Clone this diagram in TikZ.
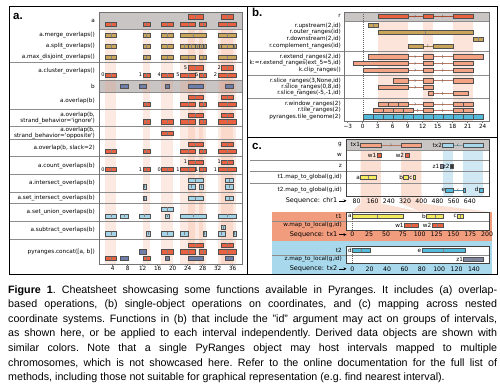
\documentclass[tikz,border=0pt]{standalone}
\usepackage{fontspec}
\setmainfont{Liberation Sans}
\newfontfamily\dvs{DejaVu Sans}
\usetikzlibrary{arrows.meta}
\definecolor{cA}{RGB}{232,98,66}
\definecolor{cTan}{RGB}{200,165,90}
\definecolor{cB}{RGB}{108,126,176}
\definecolor{cLB}{RGB}{163,212,232}
\definecolor{cSal}{RGB}{244,162,132}
\definecolor{cTG}{RGB}{84,186,220}
\definecolor{cLB2}{RGB}{165,215,237}
\definecolor{cY}{RGB}{244,234,96}
\definecolor{cZa}{RGB}{128,134,160}
\definecolor{cZb}{RGB}{55,55,60}
\definecolor{cBand}{RGB}{201,197,197}
\definecolor{cShade}{RGB}{244,150,110}
\definecolor{cBShade}{RGB}{150,205,232}
\definecolor{cSalBg}{RGB}{242,156,126}
\definecolor{cBlueBg}{RGB}{168,216,236}
\definecolor{cEdge}{RGB}{80,80,80}
\newcommand\lfont{\dvs\fontsize{5.7}{5.6}\selectfont}
\newcommand\ivh{2.1}
\newcommand\setX[2]{\def\XO{#1}\def\XS{#2}}
\newcommand\px[1]{{\XO+\XS*(#1)}}
\newcommand\bx[4]{\draw[ivb,fill=#4] (\px{#2},#1-\ivh) rectangle (\px{#3},#1+\ivh);}
\newcommand\bt[4]{\bx{#1}{#2}{#3}{#4}\draw[midt] (\px{(#2+#3)/2},#1-\ivh+0.5) -- (\px{(#2+#3)/2},#1+\ivh-0.5);}
\newcommand\gp[4]{\draw[gapl,draw=#4!75!black] (\px{#2},#1) -- (\px{#3},#1);%
  \pgfmathsetmacro\cxx{\XO+\XS*((#2+#3)/2)}%
  \draw[chev] (\cxx-0.5,#1-1.5) .. controls (\cxx+0.7,#1-0.7) and (\cxx+0.7,#1+0.7) .. (\cxx-0.5,#1+1.5);}
\newcommand\gm[4]{\draw[gapl,draw=#4!75!black] (\px{#2},#1) -- (\px{#3},#1);%
  \pgfmathsetmacro\cxx{\XO+\XS*((#2+#3)/2)}%
  \draw[chev] (\cxx+0.5,#1-1.5) .. controls (\cxx-0.7,#1-0.7) and (\cxx-0.7,#1+0.7) .. (\cxx+0.5,#1+1.5);}
\newcommand\nm[3]{\node[numl] at (\px{#2},#1) {#3};}
\newcommand\tg[3]{\node[tagl] at (\px{#2},#1) {#3};}
\tikzset{
  ivb/.style={draw=cEdge, line width=0.3pt},
  midt/.style={draw=black!50, line width=0.35pt},
  gapl/.style={line width=0.4pt},
  chev/.style={draw=black!60, line width=0.35pt},
  sepl/.style={draw=black!45, line width=0.4pt},
  framel/.style={draw=black!55, line width=0.45pt},
  dashl/.style={draw=black!60, line width=0.35pt, dash pattern=on 1pt off 1pt},
  lab/.style={font=\lfont, anchor=east, inner sep=0pt, align=right},
  tagl/.style={font=\lfont, anchor=east, inner sep=0.4pt},
  numl/.style={font=\dvs\fontsize{5}{5}\selectfont, anchor=east, inner sep=0.4pt},
  tickl/.style={font=\lfont, inner sep=0pt},
  ctick/.style={font=\dvs\fontsize{6.2}{6.2}\selectfont, inner sep=0pt},
  seql/.style={font=\dvs\fontsize{6.5}{6.5}\selectfont, anchor=east, inner sep=0pt},
  seqarr/.style={-{Stealth[length=3pt,width=2.8pt]}, line width=0.5pt},
  plet/.style={font=\bfseries\fontsize{11.5}{11.5}\selectfont, anchor=base west, inner sep=0pt}
}
\begin{document}
\begin{tikzpicture}[x=1pt,y=-1pt]
\useasboundingbox (0,0) rectangle (500,390);
\fill[white] (0,0) rectangle (500,390);

%================ PANEL A
\setX{97.7}{3.75}
\fill[cBand] (99,12.5) rectangle (242,29.3);
\fill[cBand] (99,80.7) rectangle (242,92.3);
\foreach \s/\e in {2/5,12/14,17/20,22/26,24/28,27/29,32/37,33/36}
  \fill[cShade,opacity=0.2] (\px{\s},29.3) rectangle (\px{\e},264);
\foreach \y in {62.7,109,126.7,139.5,156,174.3,192.3,203.3,221,239}
  \draw[sepl] (9,\y) -- (242,\y);
\draw[sepl] (99,29.3) -- (242,29.3);
\draw[sepl] (99,80.7) -- (242,80.7);
\draw[sepl] (99,92.3) -- (242,92.3);
\draw[framel] (99,12.5) rectangle (242,264);
\node[plet] (pa) at (13,20) {a.};
% labels
\node[lab] (la1) at (95,20.7) {a};
\node[lab] (la2) at (95,35) {a.merge\_overlaps()};
\node[lab] (la3) at (95,46) {a.split\_overlaps()};
\node[lab] (la4) at (95,57.3) {a.max\_disjoint\_overlaps()};
\node[lab] (la5) at (95,71.5) {a.cluster\_overlaps()};
\node[lab] (la6) at (95,86.5) {b};
\node[lab] (la7) at (95,100.5) {a.overlap(b)};
\node[lab] (la8) at (95,118) {a.overlap(b,\\strand\_behavior=\textquotesingle ignore\textquotesingle)};
\node[lab] (la9) at (95,133.3) {a.overlap(b,\\strand\_behavior=\textquotesingle opposite\textquotesingle)};
\node[lab] (la10) at (95,148) {a.overlap(b, slack=2)};
\node[lab] (la11) at (95,165.7) {a.count\_overlaps(b)};
\node[lab] (la12) at (95,183.5) {a.intersect\_overlaps(b)};
\node[lab] (la13) at (95,198.3) {a.set\_intersect\_overlaps(b)};
\node[lab] (la14) at (95,212.5) {a.set\_union\_overlaps(b)};
\node[lab] (la15) at (95,230.5) {a.subtract\_overlaps(b)};
\node[lab] (la16) at (95,251.7) {pyranges.concat([a, b])};
% rows
\foreach \s/\e in {24/28,33/36}{\bt{16.7}{\s}{\e}{cA}}
\foreach \s/\e in {2/5,12/14,17/20,22/26,27/29,32/37}{\bt{24.3}{\s}{\e}{cA}}
\foreach \s/\e in {2/5,12/14,17/20,22/29,32/37}{\bt{35}{\s}{\e}{cTan}}
\foreach \s/\e in {2/5,12/14,17/20,22/24,24/26,26/27,27/28,28/29,32/33,33/36,36/37}{\bt{46}{\s}{\e}{cTan}}
\foreach \s/\e in {2/5,12/14,17/20,22/26,27/29,32/37}{\bt{57.3}{\s}{\e}{cTan}}
\foreach \s/\e/\n in {24/28/5,33/36/2}{\bt{67.7}{\s}{\e}{cA}\nm{67.7}{\s}{\n}}
\foreach \s/\e/\n in {2/5/0,12/14/1,17/20/4,22/26/5,27/29/5,32/37/2}{\bt{75}{\s}{\e}{cA}\nm{75}{\s}{\n}}
\foreach \s/\e in {6/8,11/13,18/19,24/28,34/36}{\bt{86.5}{\s}{\e}{cB}}
\foreach \s/\e in {24/28,33/36}{\bt{97.3}{\s}{\e}{cA}}
\foreach \s/\e in {12/14,22/26,27/29,32/37}{\bt{104}{\s}{\e}{cA}}
\foreach \s/\e in {24/28,33/36}{\bt{115}{\s}{\e}{cA}}
\foreach \s/\e in {12/14,17/20,22/26,27/29,32/37}{\bt{121.7}{\s}{\e}{cA}}
\bt{133.3}{17}{20}{cA}
\foreach \s/\e in {24/28,33/36}{\bt{144.3}{\s}{\e}{cA}}
\foreach \s/\e in {2/5,12/14,22/26,27/29,32/37}{\bt{151}{\s}{\e}{cA}}
\foreach \s/\e/\n in {24/28/1,33/36/1}{\bt{162}{\s}{\e}{cA}\nm{162}{\s}{\n}}
\foreach \s/\e/\n in {2/5/0,12/14/1,17/20/0,22/26/1,27/29/1,32/37/1}{\bt{169.3}{\s}{\e}{cA}\nm{169.3}{\s}{\n}}
\foreach \s/\e in {24/28,34/36}{\bt{180.3}{\s}{\e}{cLB}}
\foreach \s/\e in {12/13,24/26,27/28,34/36}{\bt{186.7}{\s}{\e}{cLB}}
\foreach \s/\e in {12/13,24/28,34/36}{\bt{198.3}{\s}{\e}{cLB}}
\bt{209}{17}{20}{cLB}
\foreach \s/\e in {2/5,6/8,11/14,18/19,22/29,32/37}{\bt{215.8}{\s}{\e}{cLB}}
\bt{227}{33}{34}{cLB}
\foreach \s/\e in {2/5,13/14,17/20,22/24,28/29,32/34,36/37}{\bt{233.7}{\s}{\e}{cLB}}
\foreach \s/\e in {24/28,33/36}{\bt{244.8}{\s}{\e}{cA}}
\bt{251.7}{11}{13}{cB}
\foreach \s/\e in {17/20,22/26,27/29,32/37}{\bt{251.7}{\s}{\e}{cA}}
\foreach \s/\e in {2/5,12/14}{\bt{258.5}{\s}{\e}{cA}}
\foreach \s/\e in {6/8,18/19,24/28,34/36}{\bt{258.5}{\s}{\e}{cB}}
\foreach \t in {4,8,...,36}{
  \draw[framel] (\px{\t},264) -- (\px{\t},265.6);
  \node[tickl] at (\px{\t},268.8) {\t};}

%================ PANEL B
\setX{362.7}{5}
\node[plet] (pb) at (252,16.5) {b.};
\fill[cBand] (344.3,12.5) rectangle (489.3,21.7);
\foreach \s/\e in {3/9,12/14,18/22}
  \fill[cShade,opacity=0.25] (\px{\s},21.7) rectangle (\px{\e},121.5);
\draw[sepl] (344.3,21.7) -- (489.3,21.7);
\foreach \y in {51.5,75.5,98.7} \draw[sepl] (247,\y) -- (489.3,\y);
\draw[dashl] (\px{0},12.5) -- (\px{0},121.5);
\draw[framel] (344.3,12.5) rectangle (489.3,121.5);
\node[lab] (lb1) at (341,16.2) {r};
\node[lab] (lb2) at (341,25.5) {r.upstream(2,id)};
\node[lab] (lb3) at (341,32.2) {r.outer\_ranges(id)};
\node[lab] (lb4) at (341,39) {r.downstream(2,id)};
\node[lab] (lb5) at (341,45.8) {r.complement\_ranges(id)};
\node[lab] (lb6) at (341,56.7) {r.extend\_ranges(2,id)};
\node[lab] (lb7) at (341,63.3) {k:=r.extend\_ranges(ext\_5=5,id)};
\node[lab] (lb8) at (341,70) {k.clip\_ranges()};
\node[lab] (lb9) at (341,80.7) {r.slice\_ranges(3,None,id)};
\node[lab] (lb10) at (341,87) {r.slice\_ranges(0,8,id)};
\node[lab] (lb11) at (341,93.3) {r.slice\_ranges(-5,-1,id)};
\node[lab] (lb12) at (341,104) {r.window\_ranges(2)};
\node[lab] (lb13) at (341,110.3) {r.tile\_ranges(2)};
\node[lab] (lb14) at (341,116.7) {pyranges.tile\_genome(2)};
\gp{16.2}{9}{12}{cA}\gp{16.2}{14}{18}{cA}
\bx{16.2}{3}{9}{cA}\bx{16.2}{12}{14}{cA}\bx{16.2}{18}{22}{cA}
\bt{25.5}{1}{3}{cTan}
\bt{32.2}{3}{22}{cTan}
\bt{39}{22}{24}{cTan}
\gp{45.8}{12}{14}{cTan}\bx{45.8}{9}{12}{cTan}\bx{45.8}{14}{18}{cTan}
\gp{56.7}{9}{12}{cSal}\gp{56.7}{14}{18}{cSal}
\bx{56.7}{1}{9}{cSal}\bx{56.7}{12}{14}{cSal}\bx{56.7}{18}{24}{cSal}
\gp{63.3}{9}{12}{cSal}\gp{63.3}{14}{18}{cSal}
\bx{63.3}{-2}{9}{cSal}\bx{63.3}{12}{14}{cSal}\bx{63.3}{18}{22}{cSal}
\gp{70}{9}{12}{cSal}\gp{70}{14}{18}{cSal}
\bx{70}{0}{9}{cSal}\bx{70}{12}{14}{cSal}\bx{70}{18}{22}{cSal}
\gp{80.7}{9}{12}{cSal}\gp{80.7}{14}{18}{cSal}
\bx{80.7}{6}{9}{cSal}\bx{80.7}{12}{14}{cSal}\bx{80.7}{18}{22}{cSal}
\gp{87}{9}{12}{cSal}
\bx{87}{3}{9}{cSal}\bx{87}{12}{14}{cSal}
\gp{93.3}{14}{18}{cSal}
\bx{93.3}{13}{14}{cSal}\bx{93.3}{18}{21}{cSal}
\gp{104}{9}{12}{cSal}\gp{104}{14}{18}{cSal}
\foreach \s/\e in {3/5,5/7,7/9,12/14,18/20,20/22}{\bx{104}{\s}{\e}{cSal}}
\gp{110.3}{10}{12}{cSal}\gp{110.3}{14}{18}{cSal}
\foreach \s/\e in {2/4,4/6,6/8,8/10,12/14,18/20,20/22}{\bx{110.3}{\s}{\e}{cSal}}
\foreach \s in {0,2,...,22}{\bx{116.7}{\s}{\s+2}{cTG}}
\foreach \t/\l in {-3/−3,0/0,3/3,6/6,9/9,12/12,15/15,18/18,21/21,24/24}{
  \draw[framel] (\px{\t},121.5) -- (\px{\t},123.1);
  \node[tickl] at (\px{\t},126.5) {\l};}

%================ PANEL C
\node[plet] (pc) at (252,149.5) {c.};
\setX{340.3}{0.2025}
\fill[cShade,opacity=0.3] (\px{100},150.3) -- (\px{200},150.3) -- (\px{200},203.5) -- (419.7,211.5) -- (352.3,211.5) -- (\px{100},203.5) -- cycle;
\fill[cShade,opacity=0.3] (\px{300},150.3) -- (\px{400},150.3) -- (\px{400},203.5) -- (487.1,211.5) -- (419.7,211.5) -- (\px{300},203.5) -- cycle;
\fill[cBShade,opacity=0.45] (\px{505},150.3) rectangle (\px{555},195.8);
\fill[cBShade,opacity=0.45] (\px{605},150.3) rectangle (\px{705},195.8);
\fill[cBand] (346,139.5) rectangle (489.3,150.3);
\draw[sepl] (346,150.3) -- (489.3,150.3);
\foreach \y in {160.7,171.7,183.5} \draw[sepl] (250,\y) -- (489.3,\y);
\draw[draw=black!75, line width=0.5pt] (346,139.5) rectangle (489.3,195.8);
\node[lab] (lc1) at (342,144.9) {g};
\node[lab] (lc2) at (342,155.3) {w};
\node[lab] (lc3) at (342,166.2) {z};
\node[lab] (lc4) at (342,177.5) {t1.map\_to\_global(g,id)};
\node[lab] (lc5) at (342,189.8) {t2.map\_to\_global(g,id)};
\tg{144.9}{100}{tx1}
\gp{144.9}{200}{300}{cSal}\bx{144.9}{100}{200}{cSal}\bx{144.9}{300}{400}{cSal}
\tg{144.9}{505}{tx2}
\gm{144.9}{555}{605}{cLB2}\bx{144.9}{505}{555}{cLB2}\bx{144.9}{605}{705}{cLB2}
\tg{155.3}{180}{w1}\bx{155.3}{180}{200}{cA}
\tg{155.3}{318}{w2}\bx{155.3}{318}{338}{cA}
\tg{166.2}{492}{z1}\bx{166.2}{492}{510}{cZa}
\tg{166.2}{542}{z2}\bx{166.2}{542}{558}{cZb}
\tg{177.5}{100}{a}\bt{177.5}{100}{175}{cY}
\tg{177.5}{312}{b}\bx{177.5}{312}{337}{cY}
\tg{177.5}{360}{c}\bx{177.5}{360}{370}{cY}
\tg{189.8}{520}{e}
\gm{189.8}{555}{605}{cTG}\bx{189.8}{520}{555}{cTG}\bx{189.8}{605}{618}{cTG}
\tg{189.8}{685}{d}\bx{189.8}{685}{705}{cTG}
\foreach \t in {80,160,...,640}{\node[ctick] at (\px{\t},200.8) {\t};}
\node[seql] (sq1) at (337.5,200.8) {Sequence: chr1};
\coordinate (sq1a) at (339,200.8);
\coordinate (sq1b) at (346.5,200.8);
\draw[seqarr] (sq1a) -- (sq1b);

% tx1 block
\fill[cSalBg] (271.7,211.5) rectangle (491.7,240.5);
\fill[white] (346,212.5) rectangle (489.3,230);
\draw[sepl] (271.7,220.8) -- (489.3,220.8);
\setX{352.3}{0.674}
\draw[dashl] (\px{0},212.5) -- (\px{0},230);
\draw[draw=black!75, line width=0.5pt] (346,212.5) rectangle (489.3,230);
\node[lab] (lc6) at (342,216.3) {t1};
\node[lab] (lc7) at (342,225.5) {w.map\_to\_local(g,id)};
\tg{216.3}{0}{a}\bt{216.3}{0}{75}{cY}
\tg{216.3}{110}{b}\bt{216.3}{110}{135}{cY}
\tg{216.3}{156}{c}\bt{216.3}{156}{165}{cY}
\tg{225.5}{77}{w1}\bt{225.5}{77}{97}{cA}
\tg{225.5}{118}{w2}\bt{225.5}{118}{135}{cA}
\foreach \t in {0,25,...,200}{\node[ctick] at (\px{\t},234.6) {\t};}
\node[seql] (sq2) at (337.5,234.6) {Sequence: tx1};
\coordinate (sq2a) at (339,234.6);
\coordinate (sq2b) at (346.5,234.6);
\draw[seqarr] (sq2a) -- (sq2b);

% tx2 block
\fill[cBlueBg] (271.7,240.5) rectangle (491.7,274.5);
\fill[white] (346,246) rectangle (489.3,263.3);
\draw[sepl] (271.7,255) -- (489.3,255);
\setX{352.3}{0.869}
\draw[dashl] (\px{0},246) -- (\px{0},263.3);
\draw[draw=black!75, line width=0.5pt] (346,246) rectangle (489.3,263.3);
\node[lab] (lc8) at (342,250.5) {t2};
\node[lab] (lc9) at (342,259.5) {z.map\_to\_local(g,id)};
\tg{250.5}{0}{d}\bt{250.5}{0}{20}{cTG}
\tg{250.5}{80}{e}\bt{250.5}{80}{130}{cTG}
\tg{259.5}{128}{z1}\bt{259.5}{128}{150}{cZa}
\foreach \t in {0,20,...,140}{\node[ctick] at (\px{\t},268.8) {\t};}
\node[seql] (sq3) at (337.5,268.8) {Sequence: tx2};
\coordinate (sq3a) at (339,268.8);
\coordinate (sq3b) at (346.5,268.8);
\draw[seqarr] (sq3a) -- (sq3b);

%================ FRAME
\draw[line width=0.9pt] (9,6) rectangle (497,274.5);
\draw[line width=0.8pt] (247,6) -- (247,274.5);
\draw[line width=0.8pt] (247,137) -- (497,137);

%================ CAPTION
\node[anchor=base west, inner sep=0pt] (cap) at (8,293) {\parbox[t]{489pt}{\fontsize{10.7}{14.6}\selectfont\frenchspacing\tolerance=10000\hbadness=10000
\textbf{Figure 1}. Cheatsheet showcasing some functions available in Pyranges. It includes (a) overlap-\linebreak based operations, (b) single-object operations on coordinates, and (c) mapping across nested \linebreak coordinate systems. Functions in (b) that include the "id" argument may act on groups of intervals, \linebreak as shown here, or be applied to each interval independently. Derived data objects are shown with \linebreak similar colors. Note that a single PyRanges object may host intervals mapped to multiple \linebreak chromosomes, which is not showcased here. Refer to the online documentation for the full list of \linebreak methods, including those not suitable for graphical representation (e.g. find nearest interval).}};
\end{tikzpicture}
\end{document}
